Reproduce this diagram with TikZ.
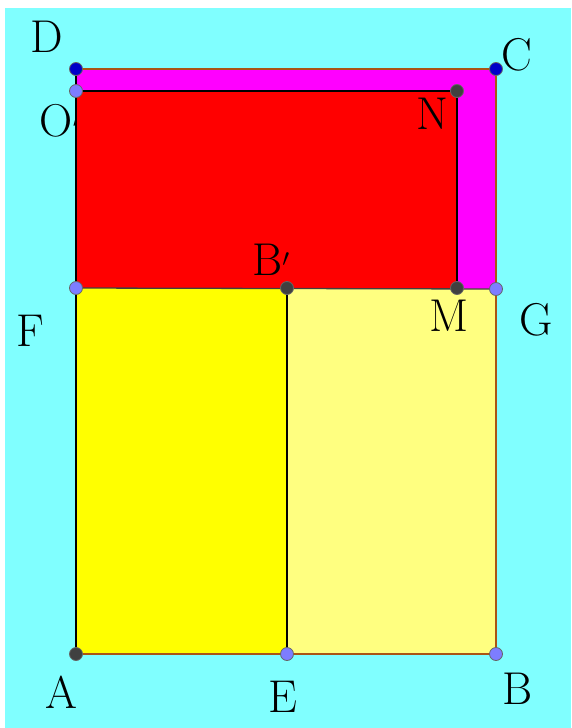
\documentclass[tikz,border=0pt]{standalone}
\begin{document}
\definecolor{bgcyan}{RGB}{128,255,255}
\definecolor{lyellow}{RGB}{255,255,128}
\definecolor{fyellow}{RGB}{255,255,0}
\definecolor{fmagenta}{RGB}{255,0,255}
\definecolor{fred}{RGB}{255,0,0}
\definecolor{lpurple}{RGB}{125,125,255}
\definecolor{dpoint}{RGB}{64,64,64}
\definecolor{bpoint}{RGB}{0,0,200}
\definecolor{edgebrown}{RGB}{170,85,20}
\begin{tikzpicture}[x=1pt,y=-1pt,
  lbl/.style={font=\fontsize{46}{46}\selectfont, inner sep=0pt},
  pt/.style={circle, draw=black!60, line width=0.8pt, minimum size=13pt, inner sep=0pt},
  ptdark/.style={pt, fill=dpoint},
  ptlight/.style={pt, fill=lpurple},
  ptblue/.style={pt, fill=bpoint},
  outer/.style={draw=edgebrown, line width=1.3pt},
  inner/.style={draw=black, line width=1.3pt}]
% background
\useasboundingbox (0,0) rectangle (571,728);
\fill[white] (0,0) rectangle (571,728);
\fill[bgcyan] (5,8) rectangle (571,728);
% coordinates
\coordinate (A) at (76,654);
\coordinate (E) at (287,654);
\coordinate (B) at (496,654);
\coordinate (F) at (76,288);
\coordinate (Bp) at (287,288);
\coordinate (M) at (457,288);
\coordinate (G) at (496,289);
\coordinate (D) at (76,69);
\coordinate (C) at (496,69);
\coordinate (O) at (76,91);
\coordinate (N) at (457,91);
% label O' (prime partly hidden under the red rectangle)
\node[lbl] (lO) at (60,121) {O$'$};
% fills
\fill[fmagenta] (F) -- (G) -- (C) -- (D) -- cycle;
\fill[fred] (F) -- (M) -- (N) -- (O) -- cycle;
\fill[fyellow] (A) -- (E) -- (Bp) -- (F) -- cycle;
\fill[lyellow] (E) -- (B) -- (G) -- (Bp) -- cycle;
% edges
\draw[outer] (A) -- (B);
\draw[outer] (B) -- (G);
\draw[outer] (G) -- (C);
\draw[outer] (C) -- (D);
\draw[inner] (D) -- (A);
\draw[draw=black!75, line width=1.3pt] (F) -- (G);
\draw[inner] (E) -- (Bp);
\draw[inner] (O) -- (N);
\draw[inner] (N) -- (M);
% points
\node[ptdark] (pA) at (A) {};
\node[ptlight] (pE) at (E) {};
\node[ptlight] (pB) at (B) {};
\node[ptlight] (pF) at (F) {};
\node[ptdark] (pBp) at (Bp) {};
\node[ptdark] (pM) at (M) {};
\node[ptlight] (pG) at (G) {};
\node[ptblue] (pD) at (D) {};
\node[ptblue] (pC) at (C) {};
\node[ptlight] (pO) at (O) {};
\node[ptdark] (pN) at (N) {};
% labels
\node[lbl] (lD) at (47,37) {D};
\node[lbl] (lC) at (517,55) {C};
\node[lbl] (lN) at (432,114) {N};
\node[lbl] (lBp) at (271,260) {B$'$};
\node[lbl] (lF) at (30,331) {F};
\node[lbl] (lM) at (449,316) {M};
\node[lbl] (lG) at (536,320) {G};
\node[lbl] (lA) at (61,692) {A};
\node[lbl] (lE) at (283,697) {E};
\node[lbl] (lB) at (518,689) {B};
\end{tikzpicture}
\end{document}
